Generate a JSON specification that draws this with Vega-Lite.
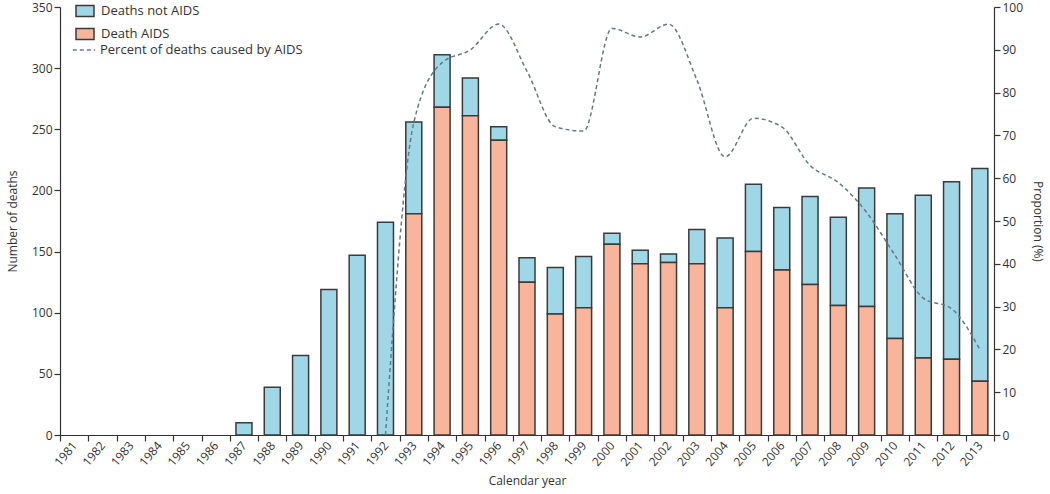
{
  "$schema": "https://vega.github.io/schema/vega-lite/v6.json",
  "width": 934,
  "height": 428,
  "autosize": {"type": "none"},
  "padding": {"left": 60, "top": 7, "right": 56, "bottom": 59},
  "config": {
    "view": {"stroke": null},
    "font": "Open Sans",
    "axis": {
      "grid": false,
      "domainColor": "#333333",
      "tickColor": "#333333",
      "labelColor": "#333333",
      "titleColor": "#333333",
      "labelFontSize": 12,
      "titleFontSize": 12,
      "titleFontWeight": "normal",
      "tickSize": 6,
      "domainWidth": 1.2,
      "tickWidth": 1.2
    },
    "legend": {"labelFontSize": 13, "labelColor": "#333333", "labelLimit": 400}
  },
  "data": {
    "values": [
      {"year": 1981, "Deaths not AIDS": 0, "Death AIDS": 0, "pct": null},
      {"year": 1982, "Deaths not AIDS": 0, "Death AIDS": 0, "pct": null},
      {"year": 1983, "Deaths not AIDS": 0, "Death AIDS": 0, "pct": null},
      {"year": 1984, "Deaths not AIDS": 0, "Death AIDS": 0, "pct": null},
      {"year": 1985, "Deaths not AIDS": 0, "Death AIDS": 0, "pct": null},
      {"year": 1986, "Deaths not AIDS": 0, "Death AIDS": 0, "pct": null},
      {"year": 1987, "Deaths not AIDS": 10, "Death AIDS": 0, "pct": null},
      {"year": 1988, "Deaths not AIDS": 39, "Death AIDS": 0, "pct": null},
      {"year": 1989, "Deaths not AIDS": 65, "Death AIDS": 0, "pct": null},
      {"year": 1990, "Deaths not AIDS": 119, "Death AIDS": 0, "pct": null},
      {"year": 1991, "Deaths not AIDS": 147, "Death AIDS": 0, "pct": null},
      {"year": 1992, "Deaths not AIDS": 174, "Death AIDS": 0, "pct": 0},
      {"year": 1993, "Deaths not AIDS": 75, "Death AIDS": 181, "pct": 73},
      {"year": 1994, "Deaths not AIDS": 43, "Death AIDS": 268, "pct": 87},
      {"year": 1995, "Deaths not AIDS": 31, "Death AIDS": 261, "pct": 90},
      {"year": 1996, "Deaths not AIDS": 11, "Death AIDS": 241, "pct": 96},
      {"year": 1997, "Deaths not AIDS": 20, "Death AIDS": 125, "pct": 85},
      {"year": 1998, "Deaths not AIDS": 38, "Death AIDS": 99, "pct": 72},
      {"year": 1999, "Deaths not AIDS": 42, "Death AIDS": 104, "pct": 71},
      {"year": 2000, "Deaths not AIDS": 9, "Death AIDS": 156, "pct": 95},
      {"year": 2001, "Deaths not AIDS": 11, "Death AIDS": 140, "pct": 93},
      {"year": 2002, "Deaths not AIDS": 7, "Death AIDS": 141, "pct": 96},
      {"year": 2003, "Deaths not AIDS": 28, "Death AIDS": 140, "pct": 83},
      {"year": 2004, "Deaths not AIDS": 57, "Death AIDS": 104, "pct": 65},
      {"year": 2005, "Deaths not AIDS": 55, "Death AIDS": 150, "pct": 74},
      {"year": 2006, "Deaths not AIDS": 51, "Death AIDS": 135, "pct": 72},
      {"year": 2007, "Deaths not AIDS": 72, "Death AIDS": 123, "pct": 63},
      {"year": 2008, "Deaths not AIDS": 72, "Death AIDS": 106, "pct": 59},
      {"year": 2009, "Deaths not AIDS": 97, "Death AIDS": 105, "pct": 52},
      {"year": 2010, "Deaths not AIDS": 102, "Death AIDS": 79, "pct": 42},
      {"year": 2011, "Deaths not AIDS": 133, "Death AIDS": 63, "pct": 32},
      {"year": 2012, "Deaths not AIDS": 145, "Death AIDS": 62, "pct": 29.5},
      {"year": 2013, "Deaths not AIDS": 174, "Death AIDS": 44, "pct": 20}
    ]
  },
  "layer": [
    {
      "transform": [
        {"fold": ["Deaths not AIDS", "Death AIDS"], "as": ["cause", "deaths"]},
        {"filter": "datum.deaths > 0"}
      ],
      "mark": {"type": "bar", "stroke": "#3a3a3a", "strokeWidth": 1.5, "width": 16},
      "encoding": {
        "x": {
          "field": "year",
          "type": "ordinal",
          "scale": {
            "domain": [1981,1982,1983,1984,1985,1986,1987,1988,1989,1990,1991,1992,1993,1994,1995,1996,1997,1998,1999,2000,2001,2002,2003,2004,2005,2006,2007,2008,2009,2010,2011,2012,2013],
            "paddingInner": 0,
            "paddingOuter": 0
          },
          "axis": {"title": "Calendar year", "labelAngle": -50, "titlePadding": 8, "tickBand": "extent"}
        },
        "y": {
          "field": "deaths",
          "type": "quantitative",
          "stack": "zero",
          "scale": {"domain": [0, 350]},
          "axis": {"title": "Number of deaths", "values": [0,50,100,150,200,250,300,350], "titlePadding": 12}
        },
        "color": {
          "field": "cause",
          "type": "nominal",
          "scale": {"domain": ["Deaths not AIDS", "Death AIDS"], "range": ["#a0d7e7", "#f9b59b"]},
          "legend": {
            "title": null,
            "orient": "none",
            "legendX": 15,
            "legendY": -6,
            "symbolType": "M-1,-0.62H1V0.62H-1Z",
            "symbolSize": 324,
            "symbolStrokeColor": "#3a3a3a",
            "symbolStrokeWidth": 1.5,
            "symbolOpacity": 1,
            "labelOffset": 6,
            "rowPadding": 4
          }
        },
        "order": {"field": "cause", "sort": "ascending"}
      }
    },
    {
      "transform": [{"filter": "isValid(datum.pct)"}],
      "mark": {"type": "line", "interpolate": "monotone", "color": "#64788a", "strokeWidth": 1.5},
      "encoding": {
        "x": {"field": "year", "type": "ordinal"},
        "y": {
          "field": "pct",
          "type": "quantitative",
          "scale": {"domain": [0, 100]},
          "axis": {"orient": "right", "title": "Proportion (%)", "values": [0,10,20,30,40,50,60,70,80,90,100], "titlePadding": 8}
        },
        "strokeDash": {
          "datum": "Percent of deaths caused by AIDS",
          "type": "nominal",
          "scale": {"range": [[4, 3]]},
          "legend": {
            "title": null,
            "orient": "none",
            "legendX": 12,
            "legendY": 31,
            "symbolType": "stroke",
            "symbolSize": 500,
            "symbolStrokeColor": "#64788a",
            "symbolStrokeWidth": 1.5,
            "labelOffset": 4
          }
        }
      }
    }
  ],
  "resolve": {"scale": {"y": "independent"}}
}
